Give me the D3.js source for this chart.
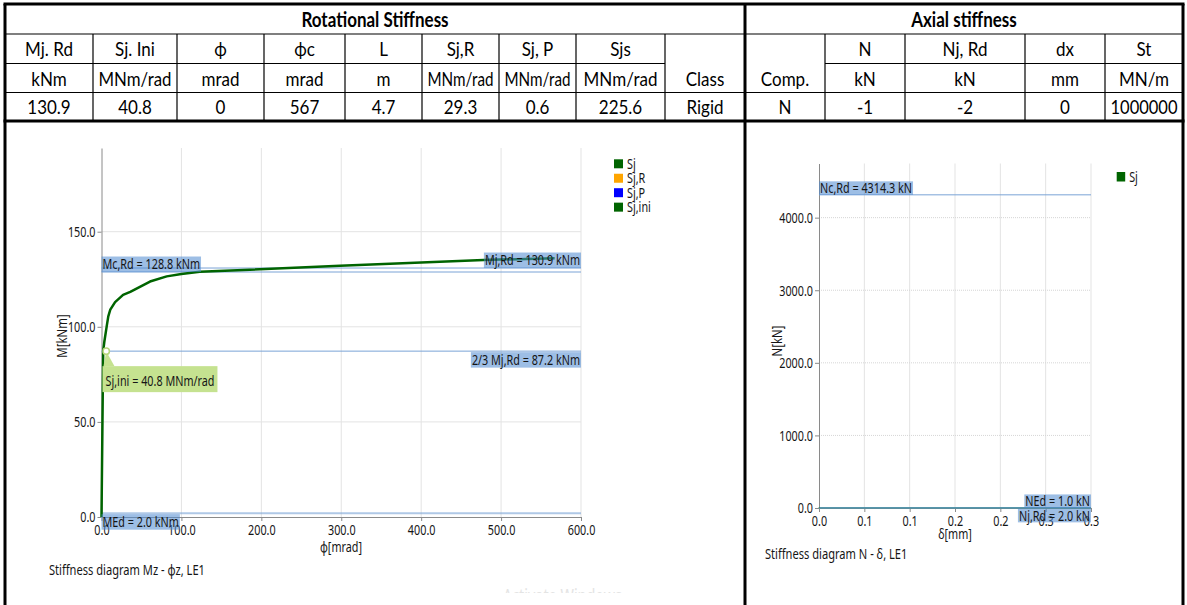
<!DOCTYPE html>
<html>
<head>
<meta charset="utf-8">
<title>Stiffness diagrams</title>
<script src="https://cdn.jsdelivr.net/npm/d3@7"></script>
<style>
  body { margin: 0; background: #fff; }
  svg { display: block; }
</style>
</head>
<body>
<div class="chart"></div>
<script>
// ---- table
const rotTitle = 'Rotational Stiffness';
const axialTitle = 'Axial stiffness';
const headRow = ['Mj. Rd', 'Sj. Ini', 'ϕ', 'ϕc', 'L', 'Sj,R', 'Sj, P', 'Sjs', '', '', 'N', 'Nj, Rd', 'dx', 'St'];
const unitRow = ['kNm', 'MNm/rad', 'mrad', 'mrad', 'm', 'MNm/rad', 'MNm/rad', 'MNm/rad', 'Class', 'Comp.', 'kN', 'kN', 'mm', 'MN/m'];
const valueRow = ['130.9', '40.8', '0', '567', '4.7', '29.3', '0.6', '225.6', 'Rigid', 'N', '-1', '-2', '0', '1000000'];

// ---- M - phi diagram
const phiValues = [0, 2.1, 3.5, 6.5, 8.5, 11, 17, 27, 36, 60.7, 81.6, 100, 123, 298.5, 486, 567];
const momentValues = [0, 87.2, 92, 100.2, 105.5, 109, 113, 116.8, 118.4, 123.8, 126.5, 127.8, 128.9, 132.1, 135.2, 136];
const leftLimitValues = [128.8, 130.9, 87.2, 2.0];
const leftLimitLabels = ['Mc,Rd = 128.8 kNm', 'Mj,Rd = 130.9 kNm', '2/3 Mj,Rd = 87.2 kNm', 'MEd = 2.0 kNm'];
const sjIni = 40.8;
const sjIniMoment = 87.2;
const sjIniLabel = 'Sj,ini = 40.8 MNm/rad';
const leftXTicks = [0, 100, 200, 300, 400, 500, 600];
const leftYTicks = [0, 50, 100, 150];
const leftLegend = ['Sj', 'Sj,R', 'Sj,P', 'Sj,ini'];

// ---- N - delta diagram
const deltaValues = [0, 0.000001, 0.000002];
const forceValues = [0, 1, 2];
const rightLimitValues = [4314.3, 1.0, 2.0];
const rightLimitLabels = ['Nc,Rd = 4314.3 kN', 'NEd = 1.0 kN', 'Nj,Rd = 2.0 kN'];
const rightXTicks = [0, 0.05, 0.1, 0.15, 0.2, 0.25, 0.3];
const rightXTickLabels = ['0.0', '0.1', '0.1', '0.2', '0.2', '0.3', '0.3'];
const rightYTicks = [0, 1000, 2000, 3000, 4000];
const rightLegend = ['Sj'];

const tableFont = 'Lato, "Open Sans", sans-serif';
const chartFont = '"Noto Sans", "DejaVu Sans", sans-serif';
const K = 0.72;          // charts use a narrow face
const TK = 0.85;         // table squash
const legendColors = { 'Sj': '#006400', 'Sj,R': '#ffa500', 'Sj,P': '#0000ff', 'Sj,ini': '#006400' };
const limitStroke = '#7aa3d6';
const boxFill = 'rgba(77,137,207,0.55)';

const svg = d3.select('.chart')
  .append('svg')
  .attr('width', 1187)
  .attr('height', 605);

// squash text horizontally, optionally capped to a max width
function squeeze(sel, k, maxW) {
  sel.each(function () {
    const len = this.getComputedTextLength();
    if (len > 0) {
      let w = len * k;
      if (maxW && w > maxW) w = maxW;
      d3.select(this)
        .attr('textLength', w)
        .attr('lengthAdjust', 'spacingAndGlyphs');
    }
  });
}

function styleAxis(ax) {
  ax.attr('font-family', chartFont).attr('font-size', 15);
  ax.select('.domain').attr('stroke', '#8a8a8a');
  ax.selectAll('.tick line').attr('stroke', '#8a8a8a');
  ax.selectAll('.tick text').attr('fill', '#151515').call(squeeze, K);
}

function chartText(g, txt, size) {
  return g.append('text')
    .attr('font-family', chartFont)
    .attr('font-size', size || 15)
    .attr('fill', '#151515')
    .text(txt);
}

// label sitting on a limit line, with a translucent blue box
function labelBox(g, x0, x1, yLine, txt, anchor, above, bh) {
  const t = chartText(g, txt);
  const w = t.node().getComputedTextLength() * K;
  squeeze(t, K);
  const bw = w + 2;
  const bx = anchor === 'start' ? x0 : x1 - bw;
  const by = above ? yLine - bh : yLine + 1;
  g.insert('rect', () => t.node())
    .attr('x', bx).attr('y', by)
    .attr('width', bw).attr('height', bh)
    .attr('fill', boxFill);
  t.attr('x', bx + 1).attr('y', by + bh / 2 + 5.2);
}

function drawTable() {
  const colX = [5, 93, 177, 264, 345, 422, 499, 576, 665, 745, 825, 905, 1025, 1105, 1183];
  const rowY = [4, 34, 63.5, 92.5, 121];
  const merged = [8, 9]; // Class / Comp. span two rows
  const g = svg.append('g');

  const thin = (x1, y1, x2, y2) => g.append('line')
    .attr('x1', x1).attr('y1', y1).attr('x2', x2).attr('y2', y2)
    .attr('stroke', '#000').attr('stroke-width', 1.2);
  const thick = (x1, y1, x2, y2) => g.append('line')
    .attr('x1', x1).attr('y1', y1).attr('x2', x2).attr('y2', y2)
    .attr('stroke', '#000').attr('stroke-width', 3);

  thin(colX[0], rowY[1], colX[14], rowY[1]);
  colX.slice(0, -1).forEach((x, i) => {
    if (!merged.includes(i)) thin(x, rowY[2], colX[i + 1], rowY[2]);
  });
  thin(colX[0], rowY[3], colX[14], rowY[3]);
  colX.slice(1, -1).forEach((x, i) => {
    if (i + 1 !== 9) thin(x, rowY[1], x, rowY[4]);
  });

  thick(colX[0] - 1.5, rowY[0], colX[14] + 1.5, rowY[0]);
  thick(colX[0] - 1.5, rowY[4], colX[14] + 1.5, rowY[4]);
  thick(colX[0], rowY[0], colX[0], 605);
  thick(colX[9], rowY[0], colX[9], 605);
  thick(colX[14], rowY[0], colX[14], 605);

  const titleY = (rowY[0] + rowY[1]) / 2 + 7.5;
  [[rotTitle, (colX[0] + colX[9]) / 2], [axialTitle, (colX[9] + colX[14]) / 2]].forEach(([t, x]) => {
    g.append('text')
      .attr('x', x).attr('y', titleY)
      .attr('text-anchor', 'middle')
      .attr('font-family', tableFont).attr('font-size', 20).attr('font-weight', 'bold')
      .text(t)
      .call(squeeze, TK);
  });

  [headRow, unitRow, valueRow].forEach((row, r) => {
    const yc = (rowY[r + 1] + rowY[r + 2]) / 2;
    g.selectAll(null)
      .data(row)
      .join('text')
      .attr('x', (d, i) => (colX[i] + colX[i + 1]) / 2)
      .attr('y', yc + 7.5)
      .attr('text-anchor', 'middle')
      .attr('font-family', tableFont)
      .attr('font-size', 20)
      .attr('fill', '#000')
      .text(d => d)
      .each(function (d, i) {
        squeeze(d3.select(this), TK, colX[i + 1] - colX[i] - 11);
      });
  });
}

function drawLeft() {
  const x = d3.scaleLinear().domain([0, 600]).range([101.5, 581]);
  const y = d3.scaleLinear().domain([0, 194]).range([517, 148]);
  const g = svg.append('g');

  // grid
  g.append('g').selectAll('line')
    .data(leftXTicks.slice(1))
    .join('line')
    .attr('x1', d => x(d)).attr('x2', d => x(d))
    .attr('y1', y(194)).attr('y2', y(0))
    .attr('stroke', '#e3e3e3');
  g.append('g').selectAll('line')
    .data(leftYTicks.slice(1))
    .join('line')
    .attr('x1', x(0)).attr('x2', x(600))
    .attr('y1', d => y(d)).attr('y2', d => y(d))
    .attr('stroke', '#e3e3e3');

  const yAxis = g.append('g')
    .attr('transform', `translate(${x(0)},0)`)
    .call(d3.axisLeft(y).tickValues(leftYTicks).tickFormat(d3.format('.1f'))
      .tickSize(4).tickSizeOuter(0).tickPadding(2));
  styleAxis(yAxis);
  const xAxis = g.append('g')
    .attr('transform', `translate(0,${y(0)})`)
    .call(d3.axisBottom(x).tickValues(leftXTicks).tickFormat(d3.format('.1f'))
      .tickSize(4).tickSizeOuter(0).tickPadding(3));
  styleAxis(xAxis);

  // limit lines
  g.append('g').selectAll('line')
    .data(leftLimitValues)
    .join('line')
    .attr('x1', x(0)).attr('x2', x(600))
    .attr('y1', d => y(d)).attr('y2', d => y(d))
    .attr('stroke', limitStroke)
    .attr('stroke-width', (d, i) => i === 3 ? 2 : 1)
    .attr('stroke-opacity', (d, i) => i === 3 ? 0.6 : 1);

  // Sj curve
  const pts = phiValues.map((p, i) => [p, momentValues[i]]);
  g.append('path')
    .datum(pts)
    .attr('fill', 'none')
    .attr('stroke', '#006400')
    .attr('stroke-width', 2.5)
    .attr('stroke-linejoin', 'round')
    .attr('d', d3.line().x(d => x(d[0])).y(d => y(d[1])));

  const anchors = ['start', 'end', 'end', 'start'];
  const above = [true, true, false, false];
  leftLimitValues.forEach((v, i) =>
    labelBox(g, x(0), x(600), y(v), leftLimitLabels[i], anchors[i], above[i], 15.5));

  // Sj,ini callout
  const iniPhi = sjIniMoment / sjIni;
  const cx = x(iniPhi) + 3, cy = y(sjIniMoment);
  const ct = chartText(g, sjIniLabel);
  const cw = ct.node().getComputedTextLength() * K;
  squeeze(ct, K);
  const bx = x(0) + 1, by = cy + 15;
  g.insert('polygon', () => ct.node())
    .attr('points', [[cx, cy], [bx + 1, by], [bx + 12, by]].map(p => p.join(',')).join(' '))
    .attr('fill', '#c5e290');
  g.insert('rect', () => ct.node())
    .attr('x', bx).attr('y', by)
    .attr('width', cw + 6).attr('height', 26)
    .attr('fill', '#c5e290');
  ct.attr('x', bx + 3).attr('y', by + 20);
  g.append('circle')
    .attr('cx', cx).attr('cy', cy).attr('r', 3.2)
    .attr('fill', '#fff').attr('stroke', '#b6d77c').attr('stroke-width', 1.5);

  // axis titles
  chartText(g, 'M[kNm]')
    .attr('text-anchor', 'middle')
    .attr('transform', `translate(67,336) rotate(-90)`)
    .call(squeeze, 0.76);
  chartText(g, 'ϕ[mrad]')
    .attr('text-anchor', 'middle')
    .attr('x', 341).attr('y', 552)
    .call(squeeze, K);
  chartText(g, 'Stiffness diagram Mz - ϕz, LE1')
    .attr('x', 49).attr('y', 575)
    .call(squeeze, 0.74);

  // legend
  const lx = x(600) + 33;
  leftLegend.forEach((name, i) => {
    const yy = 159.3 + i * 14.45;
    g.append('rect').attr('x', lx).attr('y', yy).attr('width', 9).attr('height', 9)
      .attr('fill', legendColors[name]);
    chartText(g, name).attr('x', lx + 13).attr('y', yy + 9.5).call(squeeze, K);
  });
}

function drawRight() {
  const x = d3.scaleLinear().domain([0, 0.3]).range([819, 1091]);
  const y = d3.scaleLinear().domain([0, 4746]).range([508, 163.5]);
  const g = svg.append('g');

  g.append('g').selectAll('line')
    .data(rightXTicks.slice(1))
    .join('line')
    .attr('x1', d => x(d)).attr('x2', d => x(d))
    .attr('y1', y(4746)).attr('y2', y(0))
    .attr('stroke', '#e3e3e3');
  g.append('g').selectAll('line')
    .data(rightYTicks.slice(1))
    .join('line')
    .attr('x1', x(0)).attr('x2', x(0.3))
    .attr('y1', d => y(d)).attr('y2', d => y(d))
    .attr('stroke', '#d6d6d6')
    .attr('stroke-dasharray', '1,1');

  const yAxis = g.append('g')
    .attr('transform', `translate(${x(0)},0)`)
    .call(d3.axisLeft(y).tickValues(rightYTicks).tickFormat(d3.format('.1f'))
      .tickSize(4).tickSizeOuter(0).tickPadding(2));
  styleAxis(yAxis);
  const xAxis = g.append('g')
    .attr('transform', `translate(0,${y(0)})`)
    .call(d3.axisBottom(x).tickValues(rightXTicks).tickFormat((d, i) => rightXTickLabels[i])
      .tickSize(4).tickSizeOuter(0).tickPadding(3));
  styleAxis(xAxis);

  g.append('g').selectAll('line')
    .data(rightLimitValues)
    .join('line')
    .attr('x1', x(0)).attr('x2', x(0.3))
    .attr('y1', d => y(d)).attr('y2', d => y(d))
    .attr('stroke', (d, i) => i === 0 ? limitStroke : '#4b8fa6')
    .attr('stroke-width', (d, i) => i === 0 ? 1 : 1.3);

  g.append('path')
    .datum(deltaValues.map((d, i) => [d, forceValues[i]]))
    .attr('fill', 'none')
    .attr('stroke', '#006400')
    .attr('stroke-width', 2)
    .attr('d', d3.line().x(d => x(d[0])).y(d => y(d[1])));

  const anchors = ['start', 'end', 'end'];
  const above = [true, true, false];
  rightLimitValues.forEach((v, i) =>
    labelBox(g, x(0), x(0.3), y(v), rightLimitLabels[i], anchors[i], above[i], 13.5));

  chartText(g, 'N[kN]')
    .attr('text-anchor', 'middle')
    .attr('transform', `translate(782,341) rotate(-90)`)
    .call(squeeze, 0.76);
  chartText(g, 'δ[mm]')
    .attr('text-anchor', 'middle')
    .attr('x', 955).attr('y', 539)
    .call(squeeze, K);
  chartText(g, 'Stiffness diagram N - δ, LE1')
    .attr('x', 765).attr('y', 559)
    .call(squeeze, 0.74);

  const lx = x(0.3) + 25.7;
  rightLegend.forEach((name, i) => {
    const yy = 172 + i * 14.45;
    g.append('rect').attr('x', lx).attr('y', yy).attr('width', 8.5).attr('height', 9.5)
      .attr('fill', legendColors[name]);
    chartText(g, name).attr('x', lx + 12.5).attr('y', yy + 9.5).call(squeeze, K);
  });
}

function drawWatermark() {
  svg.append('clipPath').attr('id', 'wm')
    .append('rect').attr('x', 0).attr('y', 0).attr('width', 1187).attr('height', 593);
  svg.append('text')
    .attr('clip-path', 'url(#wm)')
    .attr('x', 503).attr('y', 603)
    .attr('font-family', chartFont).attr('font-size', 20)
    .attr('fill', '#e4e4e4')
    .text('Activate Windows')
    .call(squeeze, K);
}

function draw() {
  drawTable();
  drawLeft();
  drawRight();
  drawWatermark();
}

document.fonts.ready.then(draw);
</script>
</body>
</html>
